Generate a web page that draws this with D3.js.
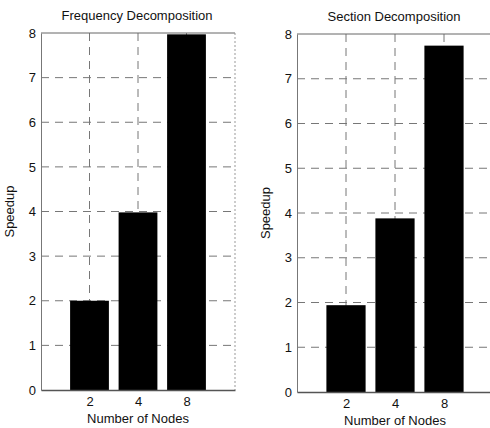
<!DOCTYPE html>
<html>
<head>
  <meta charset="utf-8">
  <title>speedup</title>
  <style>
    body { margin: 0; background: #fff; }
    text { font-family: "Liberation Sans", Arial, sans-serif; fill: #111; }
  </style>
</head>
<body>
  <svg width="490" height="428" class="chart"></svg>

  <script src="https://d3js.org/d3.v7.min.js"></script>
  <script type="text/javascript">

  // data
  var nodes = ["2", "4", "8"];
  var freqSpeedup = [2.0, 3.98, 7.97];
  var sectSpeedup = [1.94, 3.88, 7.74];
  var yTicks = [0, 1, 2, 3, 4, 5, 6, 7, 8];
  var titles = ["Frequency Decomposition", "Section Decomposition"];

  var svg = d3.select(".chart");

  function drawPanel(left, top, bottom, width, title, values) {
    var g = svg.append("g");

    // x positions 1..3 in a 0..4 range, like the original plot
    var x = d3.scaleLinear().domain([0, 4]).range([left, left + width]);
    var y = d3.scaleLinear().domain([0, 8]).range([bottom, top]);
    var bw = (x(1) - x(0)) * 0.8;

    // grid lines
    g.selectAll(".hgrid")
      .data(yTicks.slice(1, -1))
      .enter().append("line")
      .attr("x1", left).attr("x2", left + width)
      .attr("y1", function(d) { return y(d); })
      .attr("y2", function(d) { return y(d); })
      .attr("stroke", "#777")
      .attr("stroke-width", 1)
      .attr("stroke-dasharray", "8,6");
    g.selectAll(".vgrid")
      .data(nodes)
      .enter().append("line")
      .attr("x1", function(d, i) { return x(i + 1); })
      .attr("x2", function(d, i) { return x(i + 1); })
      .attr("y1", top).attr("y2", bottom)
      .attr("stroke", "#777")
      .attr("stroke-width", 1)
      .attr("stroke-dasharray", "8,6");

    // frame
    g.append("line").attr("x1", left).attr("x2", left + width).attr("y1", top).attr("y2", top)
      .attr("stroke", "#666");
    g.append("line").attr("x1", left + width).attr("x2", left + width).attr("y1", top).attr("y2", bottom)
      .attr("stroke", "#999").attr("stroke-dasharray", "2,2");

    // bars
    g.selectAll("rect")
      .data(values)
      .enter().append("rect")
      .attr("x", function(d, i) { return x(i + 1) - bw / 2; })
      .attr("y", function(d) { return y(d); })
      .attr("width", bw)
      .attr("height", function(d) { return y(0) - y(d); })
      .attr("fill", "#000");

    // axes
    var yAxis = d3.axisLeft(y).tickValues(yTicks).tickSize(0).tickPadding(5);
    g.append("g").attr("transform", "translate(" + left + ",0)").call(yAxis)
      .call(function(a) {
        a.select(".domain").attr("stroke", "#777");
        a.selectAll("text").style("font-size", "13px").attr("fill", "#111");
      });

    var xAxis = d3.axisBottom(x).tickValues([1, 2, 3])
      .tickFormat(function(d) { return nodes[d - 1]; })
      .tickSize(0).tickPadding(7);
    g.append("g").attr("transform", "translate(0," + bottom + ")").call(xAxis)
      .call(function(a) {
        a.select(".domain").attr("stroke", "#555").attr("stroke-width", 1.5);
        a.selectAll("text").style("font-size", "13px").attr("fill", "#111");
      });

    // labels
    g.append("text")
      .attr("x", left + width / 2 - 1)
      .attr("y", top - 13)
      .attr("text-anchor", "middle")
      .style("font-size", "13px")
      .text(title);
    g.append("text")
      .attr("x", x(2))
      .attr("y", bottom + 33)
      .attr("text-anchor", "middle")
      .style("font-size", "13px")
      .text("Number of Nodes");
    g.append("text")
      .attr("transform", "translate(" + (left - 27) + "," + ((top + bottom) / 2) + ") rotate(-90)")
      .attr("text-anchor", "middle")
      .style("font-size", "13px")
      .text("Speedup");
  }

  drawPanel(41, 33, 390, 194, titles[0], freqSpeedup);
  drawPanel(297, 34, 392, 196, titles[1], sectSpeedup);

  </script>
</body>
</html>
